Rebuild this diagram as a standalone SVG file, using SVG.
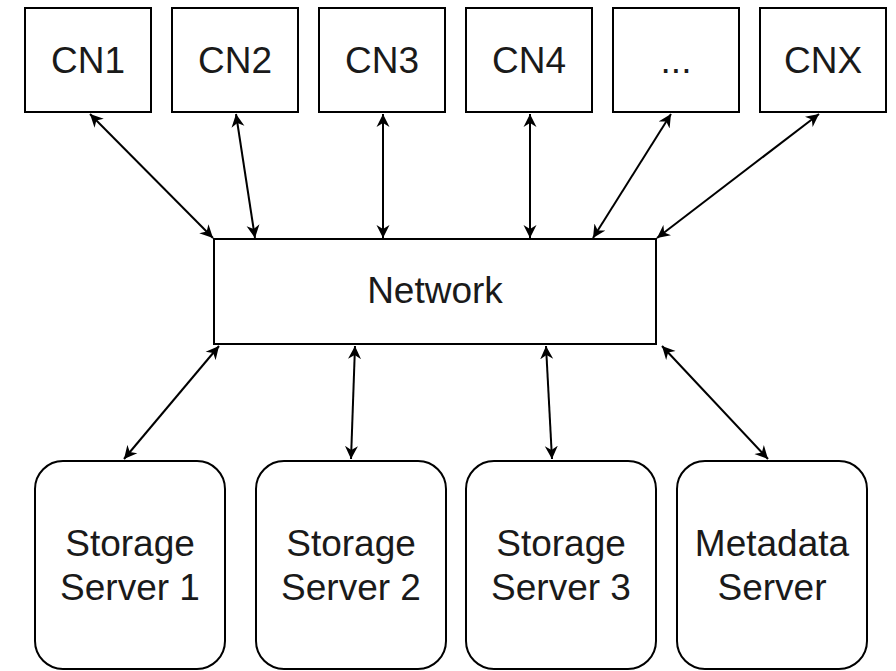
<svg xmlns="http://www.w3.org/2000/svg" width="896" height="671" viewBox="0 0 896 671">
  <style>
    .box { fill: #ffffff; stroke: #000000; stroke-width: 2; }
    .lbl { font-family: "Liberation Sans", Arial, sans-serif; font-size: 37px; fill: #1a1a1a; text-anchor: middle; }
    .link { fill: none; stroke: #000000; stroke-width: 2; marker-start: url(#arrow); marker-end: url(#arrow); }
  </style>
  <defs>
    <marker id="arrow" markerUnits="userSpaceOnUse" markerWidth="14" markerHeight="14" refX="13" refY="7" orient="auto-start-reverse" viewBox="0 0 14 14">
      <path d="M0,0.5 L13,7 L0,13.5 L4,7 Z" fill="#000000"/>
    </marker>
  </defs>
  <rect width="896" height="671" fill="#ffffff"/>

  <!-- compute nodes -->
  <g id="cn1"><rect class="box" x="25" y="8" width="126" height="104"/><text class="lbl" x="88" y="73">CN1</text></g>
  <g id="cn2"><rect class="box" x="172" y="8" width="126" height="104"/><text class="lbl" x="235" y="73">CN2</text></g>
  <g id="cn3"><rect class="box" x="319" y="8" width="126" height="104"/><text class="lbl" x="382" y="73">CN3</text></g>
  <g id="cn4"><rect class="box" x="466" y="8" width="126" height="104"/><text class="lbl" x="529" y="73">CN4</text></g>
  <g id="cn-more"><rect class="box" x="613" y="8" width="126" height="104"/><text class="lbl" x="676" y="73">...</text></g>
  <g id="cnx"><rect class="box" x="760" y="8" width="126" height="104"/><text class="lbl" x="823" y="73">CNX</text></g>

  <!-- network -->
  <g id="network"><rect class="box" x="214" y="239" width="442" height="105"/><text class="lbl" x="435" y="303">Network</text></g>

  <!-- servers -->
  <g id="storage1"><rect class="box" x="35" y="461" width="190" height="208" rx="28" ry="28"/><text class="lbl" x="130" y="556">Storage</text><text class="lbl" x="130" y="600">Server 1</text></g>
  <g id="storage2"><rect class="box" x="256" y="461" width="190" height="208" rx="28" ry="28"/><text class="lbl" x="351" y="556">Storage</text><text class="lbl" x="351" y="600">Server 2</text></g>
  <g id="storage3"><rect class="box" x="466" y="461" width="190" height="208" rx="28" ry="28"/><text class="lbl" x="561" y="556">Storage</text><text class="lbl" x="561" y="600">Server 3</text></g>
  <g id="metadata"><rect class="box" x="677" y="461" width="190" height="208" rx="28" ry="28"/><text class="lbl" x="772" y="556">Metadata</text><text class="lbl" x="772" y="600">Server</text></g>

  <!-- bidirectional links -->
  <g id="connectors">
    <path class="link" d="M90,114 L213,238"/>
    <path class="link" d="M236,114 L255,238"/>
    <path class="link" d="M383,114 L383,238"/>
    <path class="link" d="M530,114 L530,238"/>
    <path class="link" d="M671,114 L593,238"/>
    <path class="link" d="M819,114 L657,238"/>
    <path class="link" d="M219,346 L124,459"/>
    <path class="link" d="M355,346 L351,459"/>
    <path class="link" d="M546,346 L552,459"/>
    <path class="link" d="M662,346 L768,459"/>
  </g>
</svg>
